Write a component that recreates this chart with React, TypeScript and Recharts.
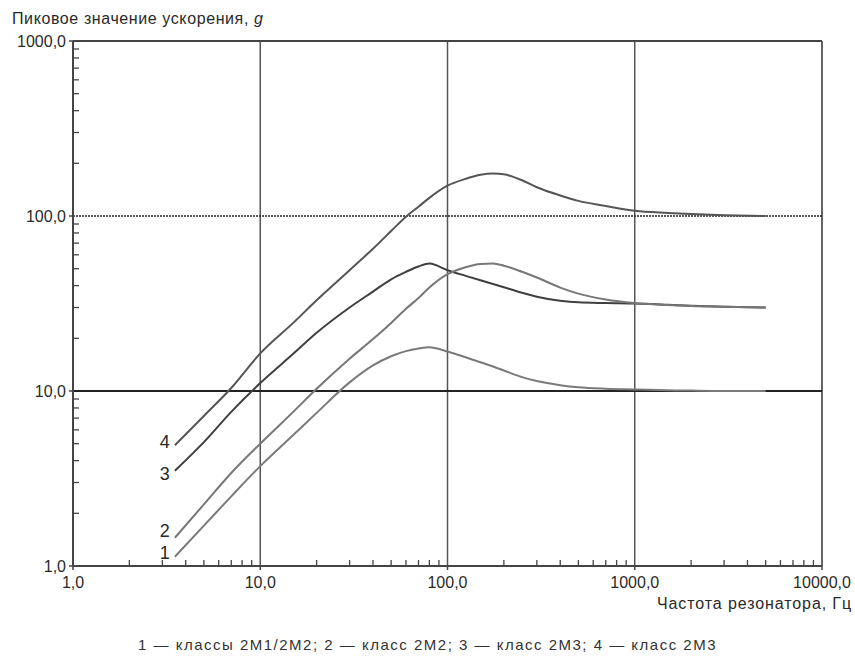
import React from 'react';
import { LineChart, Line, XAxis, YAxis, ReferenceLine } from 'recharts';

// resonator frequency, Hz
const freq = [3.5, 5, 7, 10, 15, 20, 30, 40, 50, 60, 70, 80, 100, 125, 150, 175, 200, 250, 300, 400, 500, 700, 1000, 1500, 2000, 3000, 5000];

// peak acceleration, g
const curve1 = [1.13, 1.7, 2.5, 3.72, 5.6, 7.5, 11.2, 14.0, 15.8, 16.9, 17.5, 17.8, 16.8, 15.6, 14.6, 13.8, 13.1, 12.0, 11.4, 10.8, 10.5, 10.3, 10.2, 10.1, 10.05, 10.0, 10.0];
const curve2 = [1.45, 2.25, 3.4, 5.0, 7.6, 10.3, 15.3, 19.8, 24.5, 29.5, 34, 39, 46.5, 51, 53.2, 53.5, 52, 48, 44.5, 39, 36, 33.3, 31.8, 31, 30.6, 30.3, 30];
const curve3 = [3.5, 5.1, 7.6, 11.1, 16.3, 21.5, 30, 37, 43.5, 48, 51.5, 53.5, 49, 45.5, 42.9, 40.9, 39.2, 36.4, 34.6, 32.8, 32.1, 31.8, 31.6, 31.1, 30.7, 30.3, 30];
const curve4 = [4.9, 7.2, 10.4, 16.4, 24.5, 33, 49, 65, 82, 99, 113, 127, 149, 163, 172, 175, 173, 160, 146, 131, 122, 114, 107, 104, 102.5, 101, 100];

const xMajor = [1, 10, 100, 1000, 10000];
const yMajor = [1, 10, 100, 1000];
const minorMult = [2, 3, 4, 5, 6, 7, 8, 9];

const legendText = '1 — классы 2М1/2М2; 2 — класс 2М2; 3 — класс 2М3; 4 — класс 2М3';

const rows = freq.map((f, i) => ({ f, s1: curve1[i], s2: curve2[i], s3: curve3[i], s4: curve4[i] }));

const withMinor = (major: number[]) => {
  const out: number[] = [];
  major.forEach((m, i) => {
    out.push(m);
    if (i < major.length - 1) minorMult.forEach((k) => out.push(m * k));
  });
  return out;
};
const xTicks = withMinor(xMajor);
const yTicks = withMinor(yMajor);

const fmt = (v: number) => `${v},0`;
const isMajor = (v: number) => Math.abs(Math.log10(v) - Math.round(Math.log10(v))) < 1e-9;

const FONT = '"Liberation Sans", Arial, sans-serif';
const AXIS = '#444';
const TEXT = '#2a2a2a';

const XTick = ({ x, y, payload }: any) => {
  const v = payload.value;
  if (!isMajor(v)) return <line x1={x} x2={x} y1={y} y2={y - 6} stroke={AXIS} strokeWidth={1.3} />;
  return (
    <g>
      <line x1={x} x2={x} y1={y} y2={y + 4} stroke={AXIS} strokeWidth={1.5} />
      <text x={x} y={y + 22} textAnchor="middle" fontSize={16} fontFamily={FONT} fill={TEXT}>{fmt(v)}</text>
    </g>
  );
};

const YTick = ({ x, y, payload }: any) => {
  const v = payload.value;
  if (!isMajor(v)) return <line x1={x} x2={x + 6} y1={y} y2={y} stroke={AXIS} strokeWidth={1.3} />;
  return (
    <g>
      <line x1={x} x2={x - 4} y1={y} y2={y} stroke={AXIS} strokeWidth={1.5} />
      <text x={x - 7} y={y + 6} textAnchor="end" fontSize={16} fontFamily={FONT} fill={TEXT}>{fmt(v)}</text>
    </g>
  );
};

const startLabel = (name: string, dy: number) => (props: any) => {
  if (props.index !== 0) return null;
  return (
    <text x={props.x - 5} y={props.y + dy} textAnchor="end" fontSize={18} fontFamily={FONT} fill={TEXT}>{name}</text>
  );
};

const series = [
  { key: 's4', name: '4', color: '#555', dy: 3 },
  { key: 's3', name: '3', color: '#3f3f3f', dy: 9 },
  { key: 's2', name: '2', color: '#777', dy: -1 },
  { key: 's1', name: '1', color: '#7a7a7a', dy: 2 },
];

export default function App() {
  return (
    <div style={{ position: 'absolute', left: 0, top: 0, width: 855, height: 661, background: '#fff', fontFamily: FONT }}>
      <LineChart width={855} height={661} data={rows} margin={{ top: 41, right: 33, bottom: 65, left: 0 }}>
        <XAxis
          dataKey="f"
          type="number"
          scale="log"
          domain={[1, 10000]}
          ticks={xTicks}
          interval={0}
          tickSize={0}
          tickMargin={0}
          tick={(p: any) => <XTick {...p} />}
          height={30}
          axisLine={{ stroke: AXIS, strokeWidth: 2 }}
          allowDataOverflow
        />
        <YAxis
          type="number"
          scale="log"
          domain={[1, 1000]}
          ticks={yTicks}
          interval={0}
          tickSize={0}
          tickMargin={0}
          tick={(p: any) => <YTick {...p} />}
          width={73}
          axisLine={{ stroke: AXIS, strokeWidth: 2 }}
          allowDataOverflow
        />
        <ReferenceLine x={10} stroke="#555" strokeWidth={1.5} />
        <ReferenceLine x={100} stroke="#555" strokeWidth={1.5} />
        <ReferenceLine x={1000} stroke="#555" strokeWidth={1.5} />
        <ReferenceLine x={10000} stroke="#555" strokeWidth={1.8} />
        <ReferenceLine y={10} stroke="#222" strokeWidth={2.2} />
        <ReferenceLine y={100} stroke="#222" strokeWidth={1.3} strokeDasharray="2 1" />
        <ReferenceLine y={1000} stroke="#444" strokeWidth={1.8} />
        {series.map((s) => (
          <Line
            key={s.key}
            dataKey={s.key}
            type="monotone"
            stroke={s.color}
            strokeWidth={2}
            dot={false}
            isAnimationActive={false}
            label={startLabel(s.name, s.dy)}
          />
        ))}
      </LineChart>
      <div style={{ position: 'absolute', left: 12, top: 10, fontSize: 16, letterSpacing: 0.6, color: TEXT, whiteSpace: 'nowrap' }}>
        Пиковое значение ускорения, <i>g</i>
      </div>
      <div style={{ position: 'absolute', right: 3, top: 595, fontSize: 16, lineHeight: '18px', letterSpacing: 0.9, color: TEXT, whiteSpace: 'nowrap' }}>
        Частота резонатора, Гц
      </div>
      <div style={{ position: 'absolute', left: 0, width: 855, top: 636, textAlign: 'center', fontSize: 15, letterSpacing: 1.5, color: '#333', whiteSpace: 'nowrap' }}>
        {legendText}
      </div>
    </div>
  );
}
